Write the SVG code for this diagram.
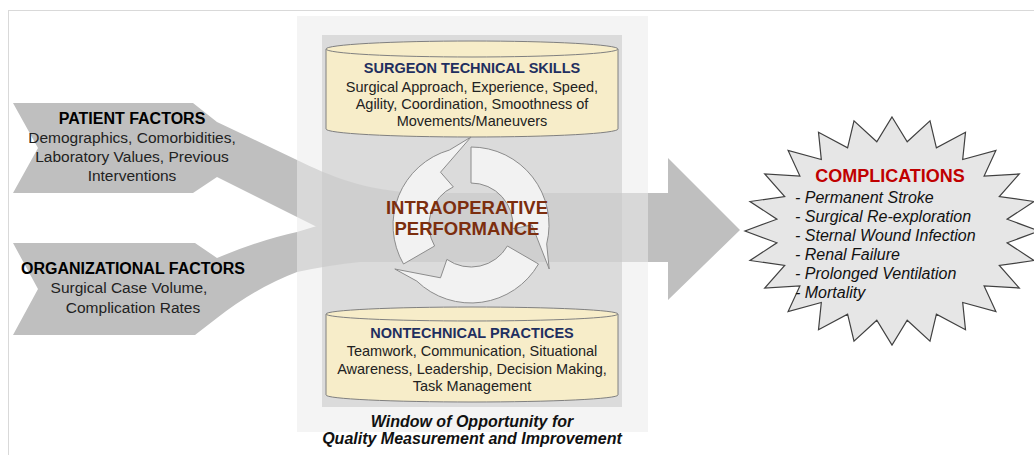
<svg xmlns="http://www.w3.org/2000/svg" width="1034" height="455" viewBox="0 0 1034 455">
<style>
.band{fill:#bfbfbf}
.cyl{fill:#f7edc9;stroke:#808080;stroke-width:1}
.ring{fill:#f2f2f2;stroke:#8c8c8c;stroke-width:1}
text{font-family:"Liberation Sans",Arial,sans-serif;text-anchor:middle}
.h{font-weight:bold;font-size:16px;fill:#000}
.t{font-size:15.5px;fill:#222}
.ct{font-weight:bold;font-size:14.5px;fill:#1f2f60}
.cb{font-size:14.5px;fill:#222}
.perf{font-weight:bold;font-size:18.5px;fill:#7c2e0e}
.cap{font-weight:bold;font-style:italic;font-size:16px;fill:#111}
.li{font-style:italic;font-size:16px;fill:#111;text-anchor:start}
</style>
<rect x="0" y="0" width="1034" height="455" fill="#fff"/>
<rect x="8.5" y="10.5" width="1040" height="460" fill="none" stroke="#d9d9d9" stroke-width="1"/>
<g id="connectors">
<path id="patient-band" class="band" d="M13,103 L193,103 L217,122 L297,160 C330,176 365,191 420,193 L420,240 L343,240 L217,177 L193,193 L13,193 L38,148 Z"/>
<path id="org-band" class="band" d="M13,243 L195,243 L217,258 Q260,240 297,232 L330,222 L420,222 L420,262 L360,262 Q330,265 297,272 Q255,288 217,318 L195,335 L13,335 L38,289 Z"/>
<path id="main-arrow" class="band" d="M330,193 L668,193 L668,158 L740,230 L668,300 L668,262 L330,262 Z"/>
</g>
<g id="window">
<rect x="297" y="16" width="351" height="416" fill="#ebebeb" fill-opacity="0.56"/>
<rect x="322" y="35" width="300" height="372" fill="#c9c9c9" fill-opacity="0.6"/>
</g>
<g id="surgeon-skills">
<path class="cyl" d="M326,49 L326,129 A146,8 0 0 0 618,129 L618,49"/>
<ellipse class="cyl" cx="472" cy="49" rx="146" ry="8"/>
<text class="ct" x="472" y="73">SURGEON TECHNICAL SKILLS</text>
<text class="cb" x="472" y="92">Surgical Approach, Experience, Speed,</text>
<text class="cb" x="472" y="109">Agility, Coordination, Smoothness of</text>
<text class="cb" x="472" y="126">Movements/Maneuvers</text>
</g>
<g id="cycle">
<path class="ring" d="M471,147 A78,78 0 0 1 546.7,243.9 L549.2,269 L532,225 L512.8,228.7 A42,42 0 0 0 471,183 Z"/>
<path class="ring" d="M538.5,264 A78,78 0 0 1 416.8,281.1 L394.8,269 L440.5,277.8 L446.9,259.4 A42,42 0 0 0 507.4,246 Z"/>
<path class="ring" d="M403.5,264 A78,78 0 0 1 449.5,150 L471,137 L440.5,172.2 L453.3,186.9 A42,42 0 0 0 434.6,246 Z"/>
</g>
<g id="nontechnical">
<path class="cyl" d="M326,314 L326,395 A146,7 0 0 0 618,395 L618,314"/>
<ellipse class="cyl" cx="472" cy="314" rx="146" ry="7"/>
<text class="ct" x="472" y="338">NONTECHNICAL PRACTICES</text>
<text class="cb" x="472" y="356">Teamwork, Communication, Situational</text>
<text class="cb" x="472" y="374">Awareness, Leadership, Decision Making,</text>
<text class="cb" x="472" y="391">Task Management</text>
</g>
<g id="performance">
<text class="perf" x="467" y="214">INTRAOPERATIVE</text>
<text class="perf" x="467" y="235">PERFORMANCE</text>
</g>
<g id="patient-factors">
<text class="h" x="132" y="124">PATIENT FACTORS</text>
<text class="t" x="132" y="143">Demographics, Comorbidities,</text>
<text class="t" x="132" y="162">Laboratory Values, Previous</text>
<text class="t" x="132" y="181">Interventions</text>
</g>
<g id="organizational-factors">
<text class="h" x="133" y="274">ORGANIZATIONAL FACTORS</text>
<text class="t" x="129" y="293">Surgical Case Volume,</text>
<text class="t" x="133" y="313">Complication Rates</text>
</g>
<g id="caption">
<text class="cap" x="472" y="427">Window of Opportunity for</text>
<text class="cap" x="472" y="444">Quality Measurement and Improvement</text>
</g>
<g id="complications">
<path fill="#e6e6e6" stroke="#404040" stroke-width="1.2" stroke-linejoin="miter" d="M892,117 L907.2,141.7 L930,120.9 L936.4,147.8 L965.5,132.3 L962.7,159.5 L995.9,150.4 L984.1,176.1 L1019.3,174 L999.3,196.5 L1034,201.5 L1007.1,219.2 L1039,231 L1007.1,242.8 L1034,260.5 L999.3,265.5 L1019.3,288 L984.1,285.9 L995.9,311.6 L962.7,302.5 L965.5,329.7 L936.4,314.2 L930,341.1 L907.2,320.3 L892,345 L876.8,320.3 L854,341.1 L847.6,314.2 L818.5,329.7 L821.3,302.5 L788.1,311.6 L799.9,285.9 L764.7,288 L784.7,265.5 L750,260.5 L776.9,242.8 L745,231 L776.9,219.2 L750,201.5 L784.7,196.5 L764.7,174 L799.9,176.1 L788.1,150.4 L821.3,159.5 L818.5,132.3 L847.6,147.8 L854,120.9 L876.8,141.7 Z"/>
<text x="890" y="182" style="font-weight:bold;font-size:18px;fill:#c00000">COMPLICATIONS</text>
<text class="li" x="795" y="203">- Permanent Stroke</text>
<text class="li" x="795" y="222">- Surgical Re-exploration</text>
<text class="li" x="795" y="241">- Sternal Wound Infection</text>
<text class="li" x="795" y="260">- Renal Failure</text>
<text class="li" x="795" y="279">- Prolonged Ventilation</text>
<text class="li" x="795" y="298">- Mortality</text>
</g>
</svg>
